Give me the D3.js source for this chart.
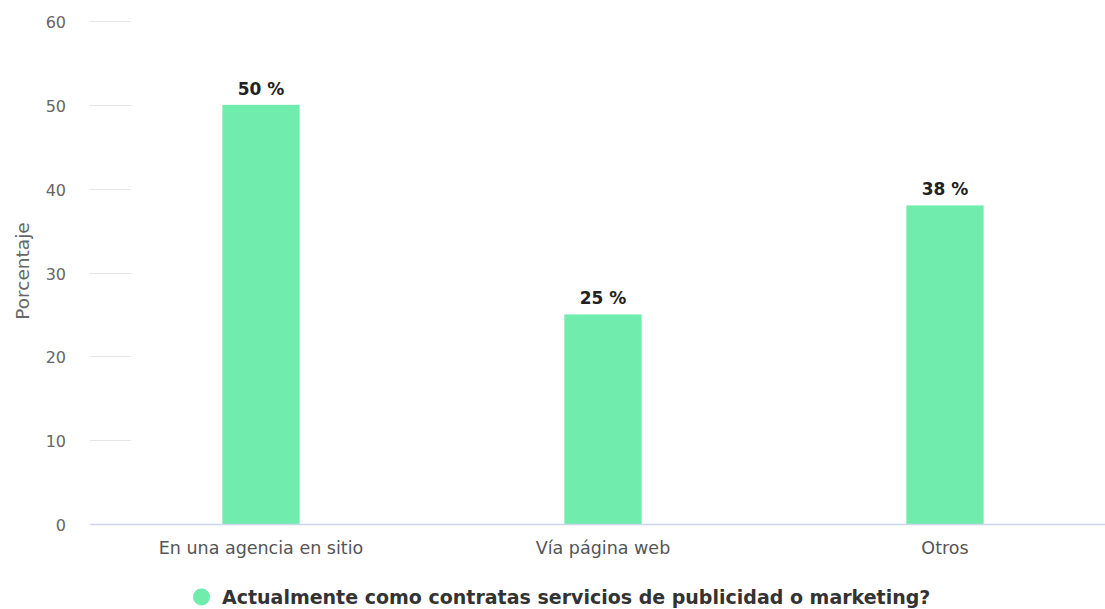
<!DOCTYPE html>
<html>
<head>
<meta charset="utf-8">
<script src="https://cdn.jsdelivr.net/npm/d3@7"></script>
<style>
  html, body { margin: 0; padding: 0; background: #fff; }
  svg { display: block; font-family: "DejaVu Sans", Verdana, sans-serif; }
</style>
</head>
<body>
<svg id="chart" width="1105" height="609"></svg>
<script>
// Survey answers and their shares (%)
const categories = ["En una agencia en sitio", "Vía página web", "Otros"];
const values = [50, 25, 38];
const yTicks = [0, 10, 20, 30, 40, 50, 60];
const seriesName = "Actualmente como contratas servicios de publicidad o marketing?";
const yTitle = "Porcentaje";

const barColor = "#70ecad";
const svg = d3.select("#chart");

const x = d3.scaleBand().domain(categories).range([90, 1116]).padding(0);
const y = d3.scaleLinear().domain([0, 60]).range([524, 21]);
const barW = x.bandwidth() * 0.226;

// short grid marks at the left edge
svg.append("g").selectAll("line").data(yTicks.filter(d => d > 0)).join("line")
  .attr("x1", 90).attr("x2", 131)
  .attr("y1", d => Math.round(y(d)) + 0.5).attr("y2", d => Math.round(y(d)) + 0.5)
  .attr("stroke", "#e6e6e6").attr("stroke-width", 1);

// y tick labels
svg.append("g").selectAll("text").data(yTicks).join("text")
  .attr("x", 66).attr("y", d => y(d) + 1.5).attr("dy", "0.35em")
  .attr("text-anchor", "end")
  .attr("font-size", 16).attr("fill", "#666")
  .text(d => d);

// y axis title
svg.append("text")
  .attr("transform", `translate(29,271) rotate(-90)`)
  .attr("text-anchor", "middle")
  .attr("font-size", 18.5).attr("fill", "#666")
  .text(yTitle);

// bars
svg.append("g").selectAll("rect").data(values).join("rect")
  .attr("x", (d, i) => x(categories[i]) + x.bandwidth() / 2 - barW / 2)
  .attr("y", d => y(d))
  .attr("width", barW)
  .attr("height", d => y(0) - y(d))
  .attr("fill", barColor);

// baseline
svg.append("line")
  .attr("x1", 90).attr("x2", 1105)
  .attr("y1", y(0) + 0.5).attr("y2", y(0) + 0.5)
  .attr("stroke", "#ccd6eb").attr("stroke-width", 1.5);

// value labels
svg.append("g").selectAll("text").data(values).join("text")
  .attr("x", (d, i) => x(categories[i]) + x.bandwidth() / 2)
  .attr("y", d => y(d) - 10)
  .attr("text-anchor", "middle")
  .attr("font-size", 17).attr("font-weight", "bold").attr("fill", "#222")
  .attr("stroke", "#fff").attr("stroke-width", 2).attr("paint-order", "stroke")
  .text(d => d + " %");

// category labels
svg.append("g").selectAll("text").data(categories).join("text")
  .attr("x", d => x(d) + x.bandwidth() / 2)
  .attr("y", 554)
  .attr("text-anchor", "middle")
  .attr("font-size", 17.5).attr("fill", "#555")
  .text(d => d);

// legend
const legend = svg.append("g");
legend.append("circle").attr("cx", 201.5).attr("cy", 597).attr("r", 8.5).attr("fill", barColor);
legend.append("text")
  .attr("x", 222).attr("y", 603.5)
  .attr("font-size", 19).attr("font-weight", "bold").attr("fill", "#333")
  .text(seriesName);
</script>
</body>
</html>
